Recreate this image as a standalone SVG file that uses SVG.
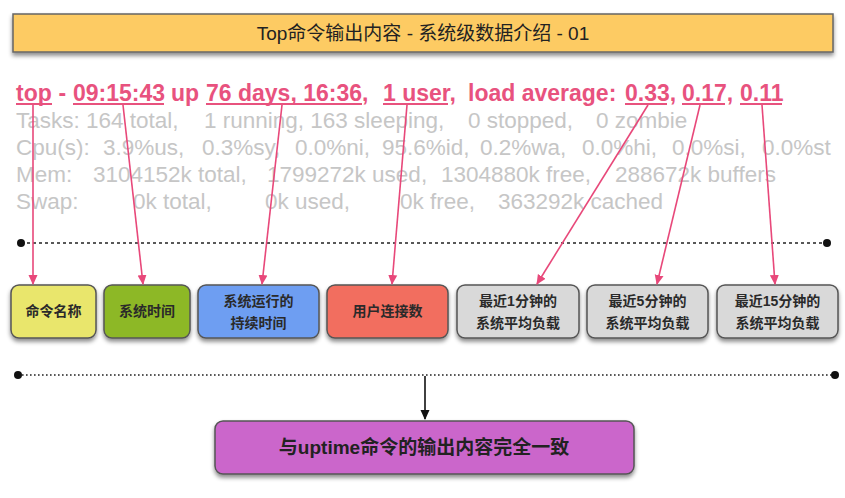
<svg xmlns="http://www.w3.org/2000/svg" width="845" height="498" viewBox="0 0 845 498">
<style>
.cjk{font-family:"Liberation Sans","Noto Sans CJK SC",sans-serif;}
.box{stroke:#555;stroke-width:1.5;filter:url(#sh);}
.lbl{font-family:"Liberation Sans","Noto Sans CJK SC",sans-serif;font-size:14px;font-weight:bold;fill:#2a2a2a;text-anchor:middle;}
.hd{font-family:"Liberation Sans",Arial,sans-serif;font-size:23px;font-weight:bold;fill:#E8527E;}
.gr{font-family:"Liberation Sans",Arial,sans-serif;font-size:22.5px;fill:#C6C6C6;}
.ul{stroke:#E8527E;stroke-width:2;}
.pk{stroke:#E8487A;stroke-width:1.6;fill:none;marker-end:url(#ap);}
</style>
<defs>
<filter id="sh" x="-10%" y="-20%" width="120%" height="160%">
<feDropShadow dx="0" dy="3" stdDeviation="2" flood-color="#000" flood-opacity="0.45"/>
</filter>
<marker id="ap" viewBox="0 0 10 10" refX="9" refY="5" markerWidth="10" markerHeight="10" markerUnits="userSpaceOnUse" orient="auto">
<path d="M0,0.5 L10,5 L0,9.5 z" fill="#E8487A"/>
</marker>
<marker id="ab" viewBox="0 0 10 10" refX="9" refY="5" markerWidth="10" markerHeight="10" markerUnits="userSpaceOnUse" orient="auto">
<path d="M0,0.5 L10,5 L0,9.5 z" fill="#111"/>
</marker>
</defs>
<rect width="845" height="498" fill="#fff"/>

<g id="title">
<rect x="13" y="14" width="820" height="38" fill="#FDCB63" stroke="#666" stroke-width="1.5" filter="url(#sh)"/>
<text x="423" y="40" class="cjk" font-size="19" fill="#222" text-anchor="middle">Top命令输出内容 - 系统级数据介绍 - 01</text>
</g>

<g id="top-output">
<text class="hd"><tspan x="16" y="101">top</tspan><tspan x="58.5" y="101">-</tspan><tspan x="73" y="101">09:15:43</tspan><tspan x="171" y="101">up</tspan><tspan x="206" y="101">76 days, 16:36,</tspan><tspan x="383" y="101">1 user,</tspan><tspan x="468" y="101">load average:</tspan><tspan x="625" y="101">0.33,</tspan><tspan x="682" y="101">0.17,</tspan><tspan x="740" y="101">0.11</tspan></text>
<line class="ul" x1="16" y1="104" x2="52" y2="104"/>
<line class="ul" x1="73" y1="104" x2="164" y2="104"/>
<line class="ul" x1="206" y1="104" x2="362" y2="104"/>
<line class="ul" x1="383" y1="104" x2="448" y2="104"/>
<line class="ul" x1="625" y1="104" x2="667" y2="104"/>
<line class="ul" x1="682" y1="104" x2="725" y2="104"/>
<line class="ul" x1="740" y1="104" x2="782" y2="104"/>
<text class="gr"><tspan x="16" y="128">Tasks: 164 total,</tspan><tspan x="204" y="128">1 running, 163 sleeping,</tspan><tspan x="468" y="128">0 stopped,</tspan><tspan x="596" y="128">0 zombie</tspan></text>
<text class="gr"><tspan x="16" y="155">Cpu(s):</tspan><tspan x="103" y="155">3.9%us,</tspan><tspan x="202" y="155">0.3%sy,</tspan><tspan x="295" y="155">0.0%ni,</tspan><tspan x="382" y="155">95.6%id,</tspan><tspan x="480" y="155">0.2%wa,</tspan><tspan x="582" y="155">0.0%hi,</tspan><tspan x="672" y="155">0.0%si,</tspan><tspan x="762" y="155">0.0%st</tspan></text>
<text class="gr"><tspan x="16" y="182">Mem:</tspan><tspan x="93" y="182">3104152k total,</tspan><tspan x="267" y="182">1799272k used,</tspan><tspan x="441" y="182">1304880k free,</tspan><tspan x="615" y="182">288672k buffers</tspan></text>
<text class="gr"><tspan x="16" y="209">Swap:</tspan><tspan x="133" y="209">0k total,</tspan><tspan x="265" y="209">0k used,</tspan><tspan x="400" y="209">0k free,</tspan><tspan x="498" y="209">363292k cached</tspan></text>
</g>

<g id="divider1">
<line x1="21" y1="243" x2="827" y2="243" stroke="#222" stroke-width="1.5" stroke-dasharray="3,3"/>
<circle cx="21" cy="243" r="4" fill="#111"/>
<circle cx="827" cy="243" r="4" fill="#111"/>
</g>

<g id="n-cmd"><rect class="box" x="11" y="285" width="85" height="53" rx="8" fill="#E9E66C"/><text class="lbl" x="53.5" y="316">命令名称</text></g>
<g id="n-time"><rect class="box" x="104" y="285" width="86" height="53" rx="8" fill="#8DB828"/><text class="lbl" x="147" y="316">系统时间</text></g>
<g id="n-uptime"><rect class="box" x="198" y="285" width="121" height="53" rx="8" fill="#6E9EF2"/><text class="lbl" x="258.5" y="306">系统运行的</text><text class="lbl" x="258.5" y="328">持续时间</text></g>
<g id="n-users"><rect class="box" x="327" y="285" width="121" height="53" rx="8" fill="#F26E5E"/><text class="lbl" x="387.5" y="316">用户连接数</text></g>
<g id="n-load1"><rect class="box" x="457" y="285" width="122" height="53" rx="8" fill="#D9D9D9"/><text class="lbl" x="518" y="306">最近1分钟的</text><text class="lbl" x="518" y="328">系统平均负载</text></g>
<g id="n-load5"><rect class="box" x="587" y="285" width="121" height="53" rx="8" fill="#D9D9D9"/><text class="lbl" x="647.5" y="306">最近5分钟的</text><text class="lbl" x="647.5" y="328">系统平均负载</text></g>
<g id="n-load15"><rect class="box" x="717" y="285" width="121" height="53" rx="8" fill="#D9D9D9"/><text class="lbl" x="777.5" y="306">最近15分钟的</text><text class="lbl" x="777.5" y="328">系统平均负载</text></g>

<g id="divider2">
<line x1="18" y1="375" x2="835" y2="375" stroke="#222" stroke-width="1.6" stroke-dasharray="1.6,2.4"/>
<circle cx="18" cy="375" r="4" fill="#111"/>
<circle cx="835" cy="375" r="4" fill="#111"/>
</g>

<g id="n-same"><rect class="box" x="215" y="421" width="419" height="53" rx="8" fill="#CB66CB"/><text x="424" y="454" class="cjk" font-size="19" font-weight="bold" fill="#222" text-anchor="middle">与uptime命令的输出内容完全一致</text></g>

<g id="connectors">
<line class="pk" x1="33" y1="105" x2="33" y2="284"/>
<line class="pk" x1="123" y1="105" x2="143" y2="284"/>
<line class="pk" x1="282" y1="105" x2="262" y2="284"/>
<line class="pk" x1="407" y1="105" x2="392" y2="284"/>
<line class="pk" x1="648" y1="105" x2="537" y2="284"/>
<line class="pk" x1="700" y1="105" x2="657" y2="284"/>
<line class="pk" x1="762" y1="105" x2="775" y2="284"/>
<line x1="425" y1="376" x2="425" y2="419" stroke="#111" stroke-width="1.6" marker-end="url(#ab)"/>
</g>
</svg>
